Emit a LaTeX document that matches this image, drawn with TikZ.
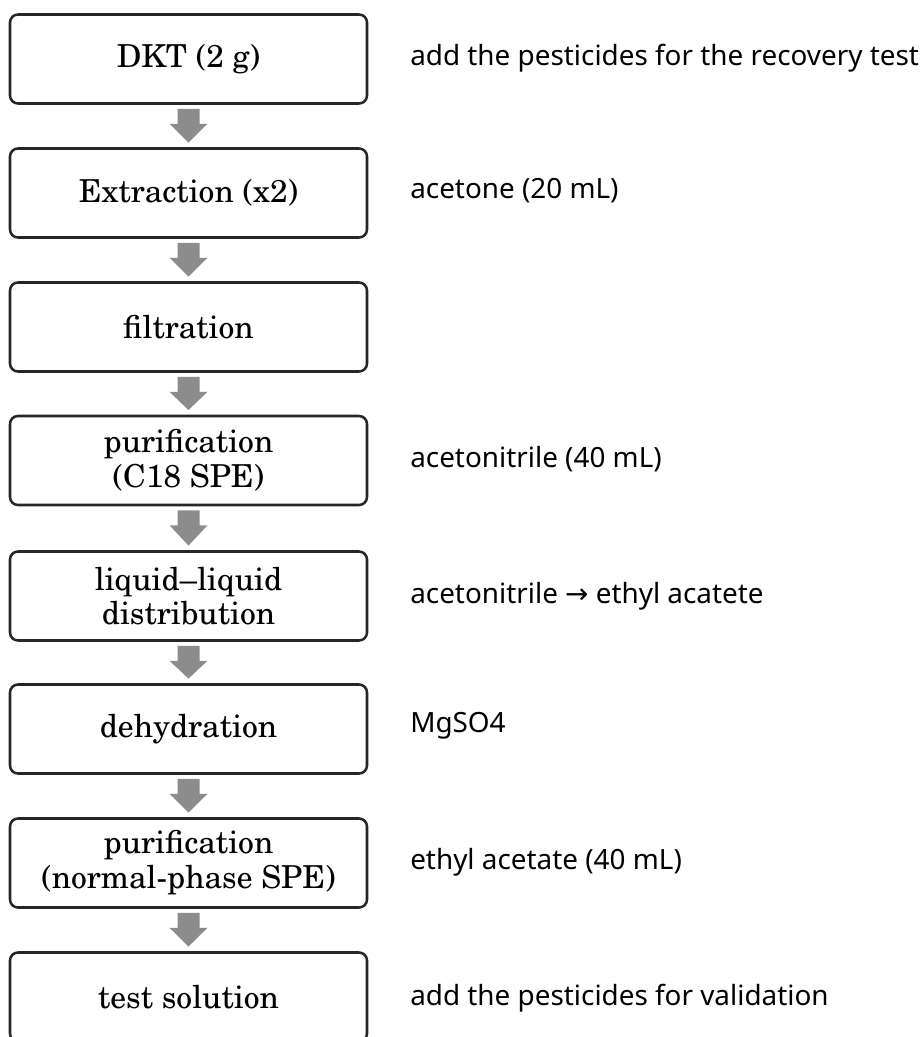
\documentclass[tikz,border=0pt]{standalone}
\usepackage[T1]{fontenc}
\usepackage{fontspec}
\setmainfont{Noto Sans}
\newfontfamily\arrowfont{DejaVu Sans}
\usetikzlibrary{calc}
\newcommand\bxfont{\fontencoding{T1}\fontfamily{pnc}\selectfont}
\tikzset{
  px/.style={x=0.75pt,y=-0.75pt},
  stepbox/.style={draw=black!85,line width=1.9pt,rounded corners=6pt,fill=white,
    minimum width=267.75pt,minimum height=66.75pt,inner sep=0pt,align=center,
    font=\bxfont\fontsize{23.7}{26}\selectfont},
  note/.style={anchor=west,inner sep=0pt,font=\fontsize{20.9}{24}\selectfont},
  blockarrow/.style={fill=black!45,draw=none}
}
\newcommand\garrow[2]{%
  \fill[blockarrow] ($(#1.south)+(-8.25pt,-3pt)$) -- ($(#1.south)+(8.25pt,-3pt)$)
    -- ($(#1.south)+(8.25pt,-14.25pt)$) -- ($(#1.south)+(14.25pt,-14.25pt)$)
    -- ($(#2.north)+(0,3.5pt)$) -- ($(#1.south)+(-14.25pt,-14.25pt)$)
    -- ($(#1.south)+(-8.25pt,-14.25pt)$) -- cycle;}
\begin{document}
\begin{tikzpicture}[px]
\useasboundingbox (0,0) rectangle (921,1037);
\clip (0,0) rectangle (921,1037);
\fill[white] (0,0) rectangle (921,1037);
\node[stepbox] (b1) at (188.5,59) {DKT (2 g)};
\node[stepbox] (b2) at (188.5,193) {Extraction (x2)};
\node[stepbox] (b3) at (188.5,327) {filtration};
\node[stepbox] (b4) at (188.5,460.5) {purification\\(C18 SPE)};
\node[stepbox] (b5) at (188.5,596) {liquid--liquid\\distribution};
\node[stepbox] (b6) at (188.5,729) {dehydration};
\node[stepbox] (b7) at (188.5,863) {purification\\(normal-phase SPE)};
\node[stepbox] (b8) at (188.5,997) {test solution};
\garrow{b1}{b2}
\garrow{b2}{b3}
\garrow{b3}{b4}
\garrow{b4}{b5}
\garrow{b5}{b6}
\garrow{b6}{b7}
\garrow{b7}{b8}
\node[note] (t1) at (410,58) {add the pesticides for the recovery test};
\node[note] (t2) at (410,191) {acetone (20 mL)};
\node[note] (t4) at (410,459) {acetonitrile (40 mL)};
\node[note] (t5) at (410,596) {acetonitrile {\arrowfont →} ethyl acatete};
\node[note] (t6) at (410,726) {MgSO4};
\node[note] (t7) at (410,862) {ethyl acetate (40 mL)};
\node[note] (t8) at (410,998) {add the pesticides for validation};
\end{tikzpicture}
\end{document}
